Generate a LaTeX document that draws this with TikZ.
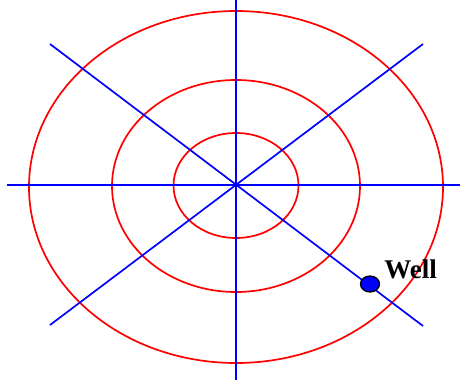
\documentclass[tikz,border=0pt]{standalone}
\usepackage{fontspec}
\setmainfont{Liberation Serif}
\usetikzlibrary{positioning,shapes.geometric}

\begin{document}
\begin{tikzpicture}[
  x=1pt,y=-1pt,
  ring/.style={draw=red,line width=1.7pt},
  ray/.style={draw=blue,line width=1.7pt},
  well/.style={ellipse,draw=black,fill=blue,line width=1.3pt,inner sep=0pt,minimum width=19pt,minimum height=16pt},
  lbl/.style={font=\bfseries\fontsize{27}{27}\selectfont,inner sep=0pt}
]
\useasboundingbox (0,0) rectangle (460,381);

% centre and ends of the lines
\coordinate (c) at (236,185);
\coordinate (w) at (7,185);
\coordinate (e) at (460,185);
\coordinate (n) at (236,0);
\coordinate (s) at (236,380);
\coordinate (nw) at (50,44);
\coordinate (se) at (423,326);
\coordinate (sw) at (50,325);
\coordinate (ne) at (423,44);

% rings
\draw[ring] (236,187) ellipse [x radius=207,y radius=176];
\draw[ring] (236,186) ellipse [x radius=124,y radius=106];
\draw[ring] (236,185.5) ellipse [x radius=62.5,y radius=52.5];

% lines through the centre
\draw[ray] (w) -- (e);
\draw[ray] (n) -- (s);
\draw[ray] (nw) -- (se);
\draw[ray] (sw) -- (ne);

% well
\node[well] (well) at (370,284) {};
\node[lbl,above right=-1pt and 7pt of well] (wl) {Well};
\end{tikzpicture}
\end{document}
